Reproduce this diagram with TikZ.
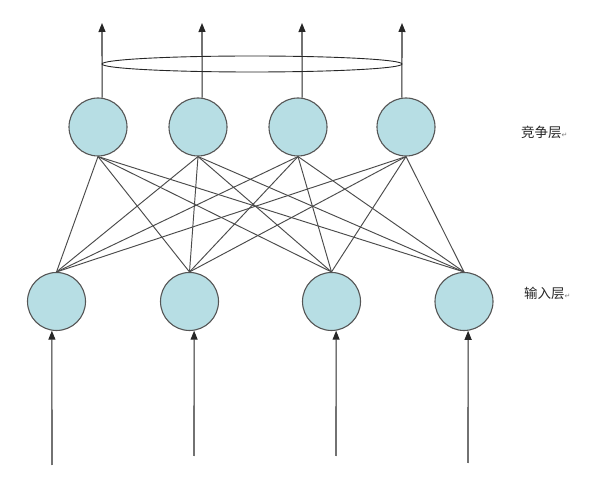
\documentclass[tikz,border=0pt]{standalone}
\usepackage{fontspec}
\newfontfamily\cjk{Noto Sans CJK SC}
\newfontfamily\dejavu{DejaVu Sans}
\usetikzlibrary{arrows.meta,backgrounds}
\definecolor{cellfill}{RGB}{183,222,228}
\definecolor{celledge}{RGB}{85,85,85}
\definecolor{wire}{RGB}{75,75,75}
\tikzset{
  neuron/.style={circle, draw=celledge, line width=1.1pt, fill=cellfill, minimum size=58pt, inner sep=0pt},
  wirelink/.style={draw=wire, line width=0.95pt},
  flow/.style={draw=black!85, line width=1.1pt, -{Triangle[length=9pt,width=7pt]}},
  layerlabel/.style={font=\cjk\fontsize{13.5}{14}\selectfont, text=black!85, anchor=west, inner sep=0pt},
}
\begin{document}
\begin{tikzpicture}[x=1pt,y=-1pt]
\useasboundingbox (0,0) rectangle (590,481);
% top (competition) layer
\node[neuron] (t1) at (98,127) {};
\node[neuron] (t2) at (198,127) {};
\node[neuron] (t3) at (298,127) {};
\node[neuron] (t4) at (406,127) {};
% bottom (input) layer
\node[neuron] (b1) at (56.5,301.5) {};
\node[neuron] (b2) at (189.5,301.5) {};
\node[neuron] (b3) at (331.5,301.5) {};
\node[neuron] (b4) at (464,301.5) {};
% full connections, behind the neurons
\begin{scope}[on background layer]
\foreach \i in {1,...,4}{
  \foreach \j in {1,...,4}{
    \draw[wirelink] (b\i.north) -- (t\j.south);
  }
}
\end{scope}
% output arrows
\coordinate (o1) at (102,23);
\coordinate (o2) at (202,23);
\coordinate (o3) at (302,23);
\coordinate (o4) at (402,23);
\draw[flow] (t1.82) -- (o1);
\draw[flow] (t2.82) -- (o2);
\draw[flow] (t3.82) -- (o3);
\draw[flow] (t4.98) -- (o4);
% lateral ellipse
\draw[black!85, line width=0.9pt] (252,64) ellipse (150 and 8);
% input arrows
\coordinate (i1) at (52,465);
\coordinate (i2) at (194,456);
\coordinate (i3) at (336,456);
\coordinate (i4) at (468,463);
\draw[flow] (i1) -- (b1.261);
\draw[flow] (i2) -- (b2.279);
\draw[flow] (i3) -- (b3.279);
\draw[flow] (i4) -- (b4.278);
% labels
\node[layerlabel] (lt) at (521,132) {竞争层{\dejavu\fontsize{7}{7}\selectfont\color{black!50}↵}};
\node[layerlabel] (lb) at (524,293) {输入层{\dejavu\fontsize{7}{7}\selectfont\color{black!50}↵}};
\end{tikzpicture}
\end{document}
